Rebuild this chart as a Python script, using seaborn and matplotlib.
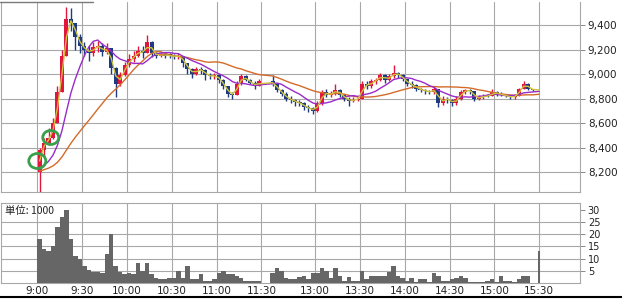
import numpy as np
import pandas as pd
import matplotlib
matplotlib.use("Agg")
import matplotlib.pyplot as plt
import seaborn as sns
from matplotlib.patches import Ellipse
from matplotlib.lines import Line2D

# ---------------- data (3-minute bars) ----------------
prev_close = 8200
am_start, am_end = "09:00", "11:27"
pm_start, pm_end = "12:30", "15:24"
auction_time = "15:30"

close_am = [8380, 8440, 8480, 8600, 8850, 9150, 9450, 9420, 9300, 9230,
            9200, 9170, 9220, 9230, 9180, 9210, 9050, 8920, 8990, 9070,
            9120, 9150, 9190, 9170, 9260, 9170, 9150, 9160, 9150, 9150,
            9140, 9150, 9090, 9040, 9000, 9040, 9030, 8990, 8980, 8990,
            8950, 8900, 8840, 8830, 8920, 8980, 8950, 8930, 8900, 8940]
high_am = [8400, 8480, 8560, 8640, 8900, 9200, 9550, 9540, 9420, 9330,
           9260, 9230, 9260, 9270, 9250, 9250, 9210, 9060, 9020, 9100,
           9160, 9190, 9230, 9230, 9320, 9270, 9180, 9180, 9170, 9170,
           9160, 9170, 9150, 9090, 9050, 9060, 9060, 9040, 9010, 9010,
           9000, 8960, 8900, 8850, 8940, 9000, 8990, 8960, 8940, 8960]
low_am = [8040, 8330, 8420, 8470, 8600, 8850, 9150, 9350, 9200, 9170,
          9150, 9110, 9150, 9180, 9150, 9160, 9000, 8815, 8900, 8980,
          9060, 9100, 9140, 9130, 9170, 9140, 9130, 9140, 9130, 9130,
          9120, 9120, 9060, 9000, 8970, 8990, 9000, 8950, 8960, 8960,
          8930, 8880, 8810, 8800, 8830, 8910, 8940, 8920, 8880, 8900]
vol_am = [18, 14, 13, 15, 23, 27, 30, 18, 11, 10,
          7, 5.5, 4.5, 4.5, 4, 12, 20, 7, 4.5, 3.5,
          4, 3.5, 8, 5, 8, 3.5, 2, 1.5, 1.5, 2,
          2, 5, 2, 7, 1.5, 1.5, 3.5, 1, 1, 1.5,
          4, 5, 3.5, 3.5, 3, 2, 1, 1, 1, 1]

close_pm = [8920, 8870, 8840, 8800, 8790, 8770, 8760, 8730, 8720, 8700,
            8760, 8850, 8830, 8840, 8870, 8830, 8800, 8780, 8790, 8800,
            8920, 8900, 8940, 8950, 8990, 8950, 8980, 9010, 8990, 8960,
            8920, 8910, 8880, 8870, 8860, 8850, 8880, 8760, 8800, 8790,
            8760, 8800, 8850, 8870, 8860, 8800, 8810, 8820, 8820, 8850,
            8840, 8830, 8820, 8810, 8820, 8880, 8920, 8880, 8870]
high_pm = [8990, 8930, 8880, 8850, 8820, 8800, 8790, 8770, 8750, 8730,
           8780, 8870, 8880, 8860, 8920, 8880, 8840, 8810, 8810, 8820,
           8940, 8940, 8960, 8970, 9010, 9000, 9000, 9070, 9020, 9000,
           8960, 8940, 8920, 8890, 8880, 8870, 8900, 8880, 8820, 8810,
           8800, 8820, 8870, 8880, 8880, 8860, 8830, 8840, 8840, 8880,
           8860, 8850, 8840, 8830, 8840, 8890, 8940, 8930, 8880]
low_pm = [8900, 8850, 8820, 8780, 8760, 8740, 8740, 8710, 8690, 8670,
          8690, 8750, 8810, 8810, 8830, 8810, 8780, 8740, 8770, 8780,
          8800, 8880, 8890, 8920, 8940, 8930, 8940, 8970, 8970, 8940,
          8900, 8890, 8860, 8850, 8840, 8840, 8840, 8730, 8750, 8760,
          8740, 8750, 8790, 8840, 8840, 8780, 8790, 8800, 8810, 8820,
          8820, 8820, 8810, 8800, 8800, 8820, 8880, 8870, 8860]
vol_pm = [4, 6, 5, 2, 1.5, 1.5, 2.5, 3, 1.5, 4,
          4, 6, 5, 2, 6, 3, 1, 2.5, 0.8, 1,
          5, 1.5, 3, 3, 3, 3, 4.5, 7, 3, 2,
          1, 2, 0.5, 1.5, 1.5, 0.3, 4, 3, 1, 1,
          1.5, 2, 3, 2, 0.5, 0.5, 0.5, 0.5, 1, 1.5,
          0.5, 3, 1, 1, 0.5, 1.5, 3, 3, 0]

auction_price = 8870
auction_vol = 13

ma_windows = {"short": 2, "mid": 8, "long": 22}   # in 3-minute bars
ma_colors = {"short": "#cfc23c", "mid": "#9a2bc9", "long": "#d46a28"}

price_ticks = [8200, 8400, 8600, 8800, 9000, 9200, 9400]
vol_ticks = [5, 10, 15, 20, 25, 30]
time_labels = ["9:00", "9:30", "10:00", "10:30", "11:00", "11:30",
               "13:00", "13:30", "14:00", "14:30", "15:00", "15:30"]
unit_label = "単位: 1000"

highlight_times = ["09:00", "09:09"]
highlight_prices = [8290, 8482]

# ---------------- positions (minutes, lunch break compressed) --------------
def to_pos(hhmm):
    h, m = map(int, hhmm.split(":"))
    mins = (h - 9) * 60 + m
    return mins if mins <= 150 else mins - 54

def bar_times(start, end):
    return [t.strftime("%H:%M") for t in
            pd.date_range("2000-01-01 " + start, "2000-01-01 " + end, freq="3min")]

times = bar_times(am_start, am_end) + bar_times(pm_start, pm_end)
centers = np.array([to_pos(t) + 1.5 for t in times])
closes = np.array(close_am + close_pm, dtype=float)
highs = np.array(high_am + high_pm, dtype=float)
lows = np.array(low_am + low_pm, dtype=float)
vols = np.array(vol_am + vol_pm, dtype=float)
opens = np.r_[prev_close, closes[:-1]]

auc_pos = to_pos(auction_time)

# ---------------- figure ----------------
sns.set_style("white")
plt.rcParams["font.family"] = ["DejaVu Sans"]
W, H = 622, 299
fig = plt.figure(figsize=(W / 100, H / 100), dpi=100)
ax1 = fig.add_axes([0.5 / W, 1 - 192 / H, 579.5 / W, 190 / H])
ax2 = fig.add_axes([0.5 / W, 1 - 283 / H, 579.5 / W, 80 / H])

px_per_min = 1.494
x0_px = 37.3
xlim = ((0.5 - x0_px) / px_per_min, (580 - x0_px) / px_per_min)

grid_c = "#a8a8a8"
up_c, dn_c = "#e2163c", "#1e3a80"

# candles
cols = [up_c if c > o else dn_c for o, c in zip(opens, closes)]
ax1.vlines(centers, lows, highs, colors=cols, lw=1.0, zorder=3)
body_bottom = np.minimum(opens, closes)
body_h = np.maximum(np.abs(closes - opens), 10)
ax1.bar(centers, body_h, bottom=body_bottom, width=2.7, color=cols,
        edgecolor="none", zorder=3)

# moving averages (padded with previous close)
all_close = np.r_[closes, auction_price]
all_pos = np.r_[centers, auc_pos]
rows = []
for name, w in ma_windows.items():
    padded = np.r_[np.full(w - 1, prev_close), all_close]
    ma = pd.Series(padded).rolling(w).mean().to_numpy()[w - 1:]
    rows.append(pd.DataFrame({"pos": all_pos, "value": ma, "ma": name}))
df_ma = pd.concat(rows, ignore_index=True)
sns.lineplot(data=df_ma, x="pos", y="value", hue="ma", palette=ma_colors,
             hue_order=["long", "mid", "short"], estimator=None, lw=1.0,
             legend=False, ax=ax1, zorder=4)

# highlight ellipses
for t, p, w, h in zip(highlight_times, highlight_prices, [11.4, 10.7], [122, 114]):
    ax1.add_patch(Ellipse((to_pos(t), p), w, h, fill=False,
                          edgecolor="#38a04a", lw=2.0, zorder=6))

grid_pos = [to_pos(t) for t in time_labels]
for ax in (ax1, ax2):
    ax.set_xlim(*xlim)
    ax.set_xticks(grid_pos)
    ax.grid(True, color=grid_c, lw=0.8)
    ax.set_axisbelow(True)
    for s in ax.spines.values():
        s.set_color(grid_c)
        s.set_linewidth(0.8)
    ax.yaxis.tick_right()
    ax.tick_params(axis="y", length=3.6, color="#888888", width=0.7,
                   labelsize=7.5, pad=2, labelcolor="#222222")
    ax.set_xlabel("")
    ax.set_ylabel("")

ax1.spines["top"].set_visible(False)
ax1.set_ylim(8037, 9588)
ax1.set_yticks(price_ticks)
ax1.set_yticklabels([f"{v:,}" for v in price_ticks])
ax1.tick_params(axis="x", length=0, labelbottom=False)

# volume
ax2.bar(centers, vols, width=3.0, color="#666666", edgecolor="none", zorder=3)
ax2.bar([auc_pos], [auction_vol], width=1.6, color="#666666", edgecolor="none", zorder=3)
ax2.set_ylim(0, 32.8)
ax2.set_yticks(vol_ticks)
ax2.set_yticklabels([str(v) for v in vol_ticks])
ax2.tick_params(axis="y", labelsize=7)
ax2.get_ygridlines()[-1].set_visible(False)
ax2.set_xticklabels(time_labels)
ax2.tick_params(axis="x", length=0, labelsize=7.5, pad=2, labelcolor="#222222")

fig.text(5 / W, 1 - 211 / H, unit_label, fontsize=7.5, va="center", ha="left",
         family=["Noto Sans CJK JP", "DejaVu Sans"], color="#222222")

# decorative frame lines
fig.add_artist(Line2D([0, 93 / W], [1 - 1.5 / H, 1 - 1.5 / H], color="#7a7a7a", lw=1.0))
fig.add_artist(Line2D([0, 1], [1 - 297 / H, 1 - 297 / H], color="black", lw=1.5))

fig.savefig("out.png", dpi=100)
